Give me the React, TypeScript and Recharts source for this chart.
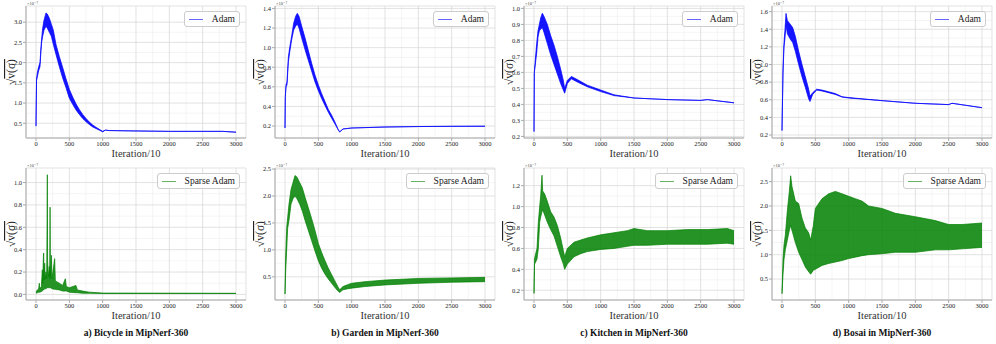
import React from 'react';
import { ComposedChart, Area, XAxis, YAxis, CartesianGrid } from 'recharts';

const FONT = '"Liberation Serif", "DejaVu Serif", serif';

const xTicks = [0, 500, 1000, 1500, 2000, 2500, 3000];
const adamName = 'Adam';
const sparseName = 'Sparse Adam';
const captions = [
  'a) Bicycle in MipNerf-360',
  'b) Garden in MipNerf-360',
  'c) Kitchen in MipNerf-360',
  'd) Bosai in MipNerf-360',
];

// ---- Adam (top row) ----
const bicycleAdamIter = [0, 8, 20, 40, 60, 75, 85, 100, 120, 150, 170, 200, 230, 260, 300, 350, 400, 450, 500, 550, 600, 650, 700, 750, 800, 850, 900, 950, 1000, 1040, 1100, 1500, 2000, 2500, 2800, 3000];
const bicycleAdamLow = [0.43, 1.55, 1.65, 1.8, 1.9, 2.3, 2.5, 2.65, 2.8, 2.9, 2.85, 2.75, 2.65, 2.45, 2.2, 1.9, 1.62, 1.38, 1.12, 0.97, 0.83, 0.72, 0.62, 0.54, 0.47, 0.41, 0.37, 0.33, 0.29, 0.33, 0.32, 0.31, 0.3, 0.3, 0.3, 0.28];
const bicycleAdamHigh = [0.43, 1.6, 1.75, 1.9, 2.0, 2.4, 2.6, 2.85, 3.05, 3.23, 3.2, 3.1, 2.95, 2.8, 2.45, 2.15, 1.88, 1.6, 1.34, 1.15, 0.98, 0.84, 0.72, 0.62, 0.53, 0.46, 0.4, 0.35, 0.3, 0.33, 0.32, 0.31, 0.3, 0.3, 0.3, 0.28];

const gardenAdamIter = [0, 5, 15, 30, 50, 70, 100, 130, 160, 185, 210, 250, 300, 350, 400, 450, 500, 550, 600, 650, 700, 750, 800, 820, 870, 1000, 1500, 2000, 2500, 3000];
const gardenAdamLow = [0.18, 0.5, 0.6, 0.62, 0.85, 0.95, 1.08, 1.18, 1.22, 1.24, 1.2, 1.1, 0.98, 0.87, 0.76, 0.65, 0.56, 0.48, 0.41, 0.34, 0.28, 0.22, 0.16, 0.14, 0.17, 0.18, 0.19, 0.195, 0.197, 0.198];
const gardenAdamHigh = [0.18, 0.5, 0.62, 0.65, 0.9, 1.0, 1.12, 1.25, 1.32, 1.35, 1.32, 1.22, 1.1, 0.97, 0.84, 0.72, 0.62, 0.53, 0.45, 0.37, 0.31, 0.24, 0.16, 0.14, 0.17, 0.18, 0.19, 0.195, 0.197, 0.198];

const kitchenAdamIter = [0, 5, 20, 40, 60, 80, 100, 125, 150, 200, 250, 300, 350, 400, 440, 460, 500, 560, 650, 800, 1000, 1200, 1500, 2000, 2500, 2600, 3000];
const kitchenAdamLow = [0.23, 0.6, 0.65, 0.72, 0.82, 0.86, 0.87, 0.88, 0.85, 0.78, 0.71, 0.65, 0.59, 0.53, 0.49, 0.47, 0.53, 0.56, 0.54, 0.51, 0.48, 0.455, 0.44, 0.43, 0.425, 0.43, 0.41];
const kitchenAdamHigh = [0.23, 0.6, 0.68, 0.78, 0.86, 0.9, 0.94, 0.97, 0.95, 0.9, 0.83, 0.77, 0.7, 0.62, 0.55, 0.5, 0.55, 0.575, 0.555, 0.52, 0.49, 0.46, 0.44, 0.43, 0.425, 0.43, 0.41];

const bosaiAdamIter = [0, 15, 30, 45, 60, 80, 100, 130, 160, 200, 250, 300, 350, 400, 420, 460, 520, 600, 800, 900, 1000, 1500, 2000, 2500, 2550, 3000];
const bosaiAdamLow = [0.25, 0.9, 1.2, 1.3, 1.45, 1.35, 1.32, 1.28, 1.25, 1.15, 1.0, 0.86, 0.74, 0.61, 0.58, 0.66, 0.71, 0.7, 0.66, 0.63, 0.62, 0.59, 0.56, 0.545, 0.56, 0.51];
const bosaiAdamHigh = [0.25, 0.95, 1.25, 1.4, 1.58, 1.5, 1.48, 1.45, 1.42, 1.32, 1.15, 1.0, 0.86, 0.72, 0.64, 0.68, 0.72, 0.71, 0.67, 0.635, 0.625, 0.59, 0.56, 0.545, 0.56, 0.51];

// ---- Sparse Adam (bottom row) ----
const bicycleSparseIter = [0, 20, 40, 50, 55, 80, 95, 100, 110, 115, 122, 130, 138, 150, 160, 166, 170, 174, 185, 200, 206, 211, 216, 230, 240, 280, 290, 350, 400, 440, 455, 500, 600, 620, 700, 800, 1000, 3000];
const bicycleSparseLow = [0.01, 0.015, 0.02, 0.02, 0.02, 0.025, 0.03, 0.035, 0.04, 0.04, 0.045, 0.05, 0.05, 0.05, 0.055, 0.06, 0.06, 0.06, 0.06, 0.06, 0.06, 0.06, 0.06, 0.055, 0.05, 0.045, 0.045, 0.04, 0.03, 0.03, 0.03, 0.02, 0.015, 0.015, 0.01, 0.01, 0.008, 0.008];
const bicycleSparseHigh = [0.02, 0.04, 0.05, 0.1, 0.05, 0.07, 0.22, 0.1, 0.32, 0.37, 0.13, 0.28, 0.14, 0.2, 0.14, 0.65, 1.07, 0.3, 0.16, 0.25, 0.14, 0.78, 0.16, 0.35, 0.14, 0.32, 0.12, 0.1, 0.08, 0.14, 0.07, 0.06, 0.08, 0.04, 0.03, 0.02, 0.012, 0.01];

const gardenSparseIter = [0, 10, 25, 40, 60, 90, 120, 150, 180, 220, 260, 300, 350, 400, 450, 500, 550, 600, 650, 700, 750, 800, 820, 870, 950, 1000, 1200, 1500, 2000, 2500, 3000];
const gardenSparseLow = [0.18, 0.6, 1.0, 1.4, 1.55, 1.85, 1.95, 2.0, 1.95, 1.85, 1.72, 1.55, 1.36, 1.17, 0.98, 0.8, 0.66, 0.55, 0.46, 0.38, 0.3, 0.23, 0.21, 0.26, 0.28, 0.29, 0.32, 0.35, 0.38, 0.4, 0.41];
const gardenSparseHigh = [0.18, 0.9, 1.4, 1.6, 1.85, 2.12, 2.25, 2.38, 2.35, 2.25, 2.15, 1.98, 1.78, 1.58, 1.36, 1.12, 0.95, 0.8, 0.66, 0.54, 0.42, 0.3, 0.26, 0.32, 0.36, 0.38, 0.41, 0.44, 0.47, 0.48, 0.49];

const kitchenSparseIter = [0, 8, 25, 45, 65, 85, 100, 120, 130, 160, 200, 250, 300, 350, 400, 440, 460, 500, 600, 700, 800, 1000, 1200, 1400, 1500, 1700, 2000, 2300, 2600, 2900, 3000];
const kitchenSparseLow = [0.17, 0.45, 0.47, 0.5, 0.6, 0.85, 0.9, 0.95, 0.97, 0.92, 0.85, 0.78, 0.72, 0.62, 0.52, 0.45, 0.4, 0.45, 0.52, 0.55, 0.57, 0.59, 0.6, 0.62, 0.63, 0.63, 0.64, 0.64, 0.64, 0.65, 0.64];
const kitchenSparseHigh = [0.17, 0.5, 0.55, 0.6, 0.85, 1.0, 1.1, 1.3, 1.15, 1.12, 1.05, 0.95, 0.9, 0.82, 0.7, 0.58, 0.52, 0.6, 0.66, 0.68, 0.7, 0.73, 0.75, 0.77, 0.79, 0.77, 0.77, 0.78, 0.78, 0.79, 0.77];

const bosaiSparseIter = [0, 15, 30, 50, 80, 110, 130, 150, 200, 250, 300, 350, 400, 430, 470, 500, 600, 700, 800, 900, 1000, 1100, 1200, 1300, 1500, 1700, 2000, 2300, 2500, 2700, 3000];
const bosaiSparseLow = [0.2, 0.6, 0.9, 1.1, 1.3, 1.5, 1.6, 1.5, 1.25, 1.05, 0.9, 0.75, 0.65, 0.6, 0.68, 0.7, 0.78, 0.82, 0.85, 0.88, 0.92, 0.95, 0.98, 1.0, 1.02, 1.05, 1.05, 1.1, 1.1, 1.12, 1.15];
const bosaiSparseHigh = [0.2, 0.9, 1.2, 1.4, 1.9, 2.3, 2.62, 2.4, 2.1, 2.05, 1.75, 1.55, 1.45, 1.3, 1.6, 1.95, 2.15, 2.25, 2.3, 2.25, 2.2, 2.15, 2.1, 2.0, 1.95, 1.85, 1.78, 1.7, 1.62, 1.62, 1.65];

const BLUE = '#0000ff';
const GREEN = '#008000';
const BLUE_LEGEND = '#6666ff';
const GREEN_LEGEND = '#66b366';

type Panel = {
  iter: number[];
  low: number[];
  high: number[];
  yTicks: number[];
  yDomain: [number, number];
  color: string;
  legendColor: string;
  name: string;
  col: number;
  row: number;
};

const panels: Panel[] = [
  { iter: bicycleAdamIter, low: bicycleAdamLow, high: bicycleAdamHigh, yTicks: [0.5, 1.0, 1.5, 2.0, 2.5, 3.0], yDomain: [0.136, 3.4], color: BLUE, legendColor: BLUE_LEGEND, name: adamName, col: 0, row: 0 },
  { iter: gardenAdamIter, low: gardenAdamLow, high: gardenAdamHigh, yTicks: [0.2, 0.4, 0.6, 0.8, 1.0, 1.2, 1.4], yDomain: [0.078, 1.425], color: BLUE, legendColor: BLUE_LEGEND, name: adamName, col: 1, row: 0 },
  { iter: kitchenAdamIter, low: kitchenAdamLow, high: kitchenAdamHigh, yTicks: [0.2, 0.3, 0.4, 0.5, 0.6, 0.7, 0.8, 0.9, 1.0], yDomain: [0.19, 1.015], color: BLUE, legendColor: BLUE_LEGEND, name: adamName, col: 2, row: 0 },
  { iter: bosaiAdamIter, low: bosaiAdamLow, high: bosaiAdamHigh, yTicks: [0.2, 0.4, 0.6, 0.8, 1.0, 1.2, 1.4, 1.6], yDomain: [0.166, 1.664], color: BLUE, legendColor: BLUE_LEGEND, name: adamName, col: 3, row: 0 },
  { iter: bicycleSparseIter, low: bicycleSparseLow, high: bicycleSparseHigh, yTicks: [0.0, 0.2, 0.4, 0.6, 0.8, 1.0], yDomain: [-0.05, 1.13], color: GREEN, legendColor: GREEN_LEGEND, name: sparseName, col: 0, row: 1 },
  { iter: gardenSparseIter, low: gardenSparseLow, high: gardenSparseHigh, yTicks: [0.5, 1.0, 1.5, 2.0, 2.5], yDomain: [0.07, 2.52], color: GREEN, legendColor: GREEN_LEGEND, name: sparseName, col: 1, row: 1 },
  { iter: kitchenSparseIter, low: kitchenSparseLow, high: kitchenSparseHigh, yTicks: [0.2, 0.4, 0.6, 0.8, 1.0, 1.2], yDomain: [0.107, 1.369], color: GREEN, legendColor: GREEN_LEGEND, name: sparseName, col: 2, row: 1 },
  { iter: bosaiSparseIter, low: bosaiSparseLow, high: bosaiSparseHigh, yTicks: [0.5, 1.0, 1.5, 2.0, 2.5], yDomain: [0.07, 2.78], color: GREEN, legendColor: GREEN_LEGEND, name: sparseName, col: 3, row: 1 },
];

const PLOT_LEFT = [26, 275, 524, 772];
const PLOT_W = 220;
const Y_AXIS_W = 26;
const CHART_W = 248;
const ROW_TOP = [0, 160];
const ROW_H = [160, 162];
const ROW_MARGIN_TOP = [6, 8];
const X_AXIS_H = 22;

const midpoints = (t: number[]) => {
  const out: number[] = [];
  for (let i = 0; i < t.length - 1; i++) out.push((t[i] + t[i + 1]) / 2);
  return out;
};

const YLabel = (props: any) => {
  const vb = props.viewBox || { x: 0, y: 0, width: 0, height: 0 };
  const cx = vb.x + vb.width - 15;
  const cy = vb.y + vb.height / 2;
  return (
    <g>
      <text
        x={cx}
        y={cy}
        transform={`rotate(-90 ${cx} ${cy})`}
        textAnchor="middle"
        dominantBaseline="central"
        fontSize={11.5}
        fontFamily={FONT}
        fill="#222"
      >
        √<tspan textDecoration="overline">v(σ)</tspan>
      </text>
      <text x={vb.x + vb.width + 1} y={vb.y - 1.2} fontSize={4.5} fontFamily={FONT} fill="#444">
        ×10⁻⁷
      </text>
    </g>
  );
};

const XLabel = (props: any) => {
  const vb = props.viewBox || { x: 0, y: 0, width: 0, height: 0 };
  return (
    <text
      x={vb.x + vb.width / 2}
      y={vb.y + 15}
      textAnchor="middle"
      dominantBaseline="central"
      fontSize={10.5}
      fontFamily={FONT}
      fill="#333"
    >
      Iteration/10
    </text>
  );
};

const PanelChart = ({ p }: { p: Panel }) => {
  const data = p.iter.map((x, i) => ({ x, band: [p.low[i], p.high[i]] }));
  const chartLeft = PLOT_LEFT[p.col] - Y_AXIS_W;
  const marginTop = ROW_MARGIN_TOP[p.row];
  const h = ROW_H[p.row];
  const rightMargin = CHART_W - Y_AXIS_W - PLOT_W;
  const xMinor = midpoints(xTicks);
  const yMinor = midpoints(p.yTicks);
  const isGreen = p.color === GREEN;
  return (
    <div style={{ position: 'absolute', left: chartLeft, top: ROW_TOP[p.row], width: CHART_W, height: h, fontFamily: FONT }}>
      <ComposedChart
        width={CHART_W}
        height={h}
        data={data}
        margin={{ top: marginTop, right: rightMargin, bottom: 0, left: 0 }}
        style={{ fontFamily: FONT }}
      >
        <CartesianGrid
          stroke="#efefef"
          strokeWidth={0.6}
          horizontalValues={yMinor}
          verticalValues={xMinor}
        />
        <CartesianGrid stroke="#d6d6d6" strokeWidth={0.7} />
        <XAxis
          type="number"
          dataKey="x"
          domain={[-150, 3150]}
          ticks={xTicks}
          allowDataOverflow
          height={X_AXIS_H}
          tickSize={3}
          tickMargin={0}
          interval={0}
          stroke="#aaaaaa"
          tick={{ fontSize: 6.5, fill: '#222', fontFamily: FONT }}
          label={{ content: XLabel }}
        />
        <XAxis
          xAxisId="top"
          orientation="top"
          type="number"
          domain={[0, 1]}
          height={0}
          tick={false}
          tickLine={false}
          axisLine={{ stroke: '#777777', strokeWidth: 1 }}
        />
        <YAxis
          type="number"
          domain={p.yDomain}
          ticks={p.yTicks}
          allowDataOverflow
          width={Y_AXIS_W}
          tickSize={3}
          tickMargin={1}
          interval={0}
          stroke="#aaaaaa"
          tickFormatter={(v: number) => v.toFixed(1)}
          tick={{ fontSize: 6.5, fill: '#222', fontFamily: FONT }}
          label={{ content: YLabel }}
        />
        <YAxis
          yAxisId="right"
          orientation="right"
          type="number"
          domain={[0, 1]}
          width={0}
          tick={false}
          tickLine={false}
          axisLine={{ stroke: '#aaaaaa', strokeWidth: 1 }}
        />
        <Area
          dataKey="band"
          type="linear"
          stroke={p.color}
          strokeOpacity={0.7}
          strokeWidth={1}
          fill={p.color}
          fillOpacity={isGreen ? 0.85 : 0.92}
          dot={false}
          activeDot={false}
          isAnimationActive={false}
        />
      </ComposedChart>
      <div
        style={{
          position: 'absolute',
          right: rightMargin + 6,
          top: marginTop + 5,
          height: 16,
          boxSizing: 'border-box',
          border: '1px solid #cccccc',
          borderRadius: 3,
          background: 'rgba(255,255,255,0.85)',
          display: 'flex',
          alignItems: 'center',
          padding: '0 4px 0 4px',
          fontFamily: FONT,
          fontSize: 9.5,
          color: '#222',
          whiteSpace: 'nowrap',
        }}
      >
        <div style={{ width: 14, height: 1, backgroundColor: p.legendColor, flex: '0 0 auto' }} />
        <span style={{ marginLeft: 9, lineHeight: '14px' }}>{p.name}</span>
      </div>
    </div>
  );
};

export default function App() {
  return (
    <div style={{ position: 'absolute', left: 0, top: 0, width: 996, height: 344, background: '#ffffff', overflow: 'hidden', fontFamily: FONT }}>
      {panels.map((p, i) => (
        <PanelChart key={i} p={p} />
      ))}
      {captions.map((c, i) => (
        <div
          key={c}
          style={{
            position: 'absolute',
            left: PLOT_LEFT[i] + PLOT_W / 2 - 110,
            width: 220,
            top: 327,
            textAlign: 'center',
            fontFamily: FONT,
            fontWeight: 'bold',
            fontSize: 9.5,
            color: '#111',
            lineHeight: '12px',
          }}
        >
          {c}
        </div>
      ))}
    </div>
  );
}
